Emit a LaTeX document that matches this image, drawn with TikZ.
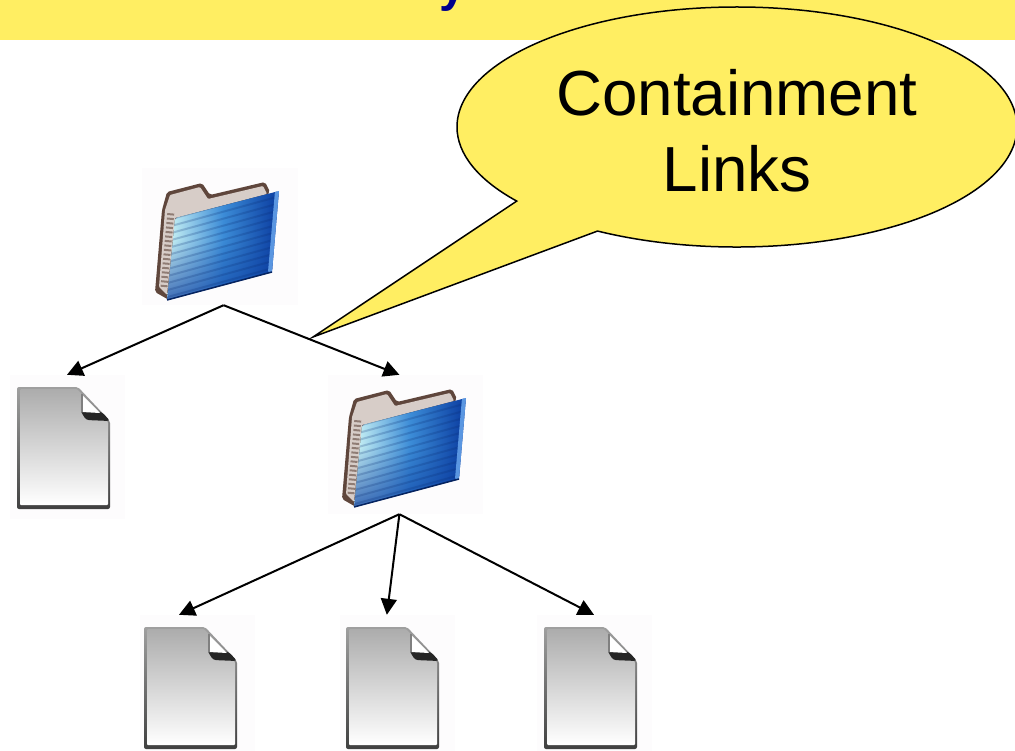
\documentclass[tikz,border=0pt]{standalone}
\usepackage{fontspec}
\setmainfont{Liberation Sans}
\usepackage{tikz}
\usetikzlibrary{arrows.meta,shapes.callouts,fadings}
\definecolor{bandyellow}{RGB}{255,238,98}
\definecolor{titleblue}{RGB}{0,0,140}
\definecolor{iconback}{RGB}{253,252,253}
\definecolor{tabbrown}{RGB}{95,70,60}
\definecolor{tabpale}{RGB}{215,205,200}
\definecolor{folderdark}{RGB}{10,60,160}
\definecolor{foldermid}{RGB}{60,140,215}
\definecolor{folderlight}{RGB}{205,245,245}
\definecolor{folderedge}{RGB}{90,150,225}
\tikzset{
	iconbox/.style={fill=iconback,inner sep=0pt,minimum width=#1},
	filebox/.style={iconbox=115pt,minimum height=144pt},
	fileicon/.pic={
		\shade[top color=gray!75,bottom color=black!75,rounded corners=2pt] (-47,-61) -- (14,-61) -- (46,-27) -- (46,61) -- (-47,61) -- cycle;
		\shade[top color=gray!65,bottom color=white,rounded corners=1pt] (-44,-59) -- (13,-59) -- (44,-26) -- (44,57) -- (-44,57) -- cycle;
		\fill[black!85,rounded corners=3pt] (16,-38) -- (38,-36) -- (46,-27) -- (22,-28) -- cycle;
		\fill[white] (18,-53) -- (18,-36) -- (36,-35) -- cycle;
		\draw[gray,line width=1.5pt] (18,-54) -- (18,-36);
	},
	foldericon/.pic={
		\fill[tabbrown,rounded corners=2pt] (-69,57) -- (-62,-25) -- (-57,-43) -- (-22,-52) -- (-14,-40) -- (41,-53) -- (46,-43) -- (-55,65) -- cycle;
		\fill[tabpale,rounded corners=1pt] (-65,52) -- (-59,-25) -- (-54,-40) -- (-24,-48) -- (-16,-36) -- (39,-49) -- (43,-41) -- (-49,-17) -- (-57,60) -- cycle;
		\draw[tabbrown,line width=7pt,opacity=.6,dash pattern=on 2pt off 2.5pt] (-60,52) -- (-53,-24);
		\shade[left color=folderlight,right color=folderdark,middle color=foldermid,rounded corners=2pt] (-49,-17) -- (55,-44) -- (48,37) -- (-57,65) -- cycle;
		\begin{scope}
			\clip (-49,-17) -- (55,-44) -- (48,37) -- (-57,65) -- cycle;
			\fill[folderdark,opacity=.75,path fading=north] (-60,5) rectangle (60,66);
			\foreach \k in {0,7,...,84} {
				\draw[folderdark!70!black,opacity=.22,line width=2pt] (-60,-14+\k) -- (60,-47+\k);
			}
			\draw[folderedge,line width=8pt] (55,-44) -- (48,37);
		\end{scope}
		\draw[folderdark!60!black,line width=1.5pt] (-57,65) -- (48,37);
	}
}
\begin{document}
\begin{tikzpicture}[x=1pt,y=-1pt]
	\useasboundingbox (0,0) rectangle (1015,751);
	\fill[bandyellow] (0,0) rectangle (1015,40);
	\node[text=titleblue,font=\bfseries\fontsize{48}{48}\selectfont,anchor=base] (titleletter) at (453,2) {y};

	\node[iconbox=156pt,minimum height=137pt] (rootfolder) at (220,236.5) {};
	\node[filebox] (leftfile) at (67,447) {};
	\node[iconbox=155pt,minimum height=139pt] (subfolder) at (405.5,444.5) {};
	\node[filebox] (firstfile) at (197,687) {};
	\node[filebox] (secondfile) at (397,687) {};
	\node[filebox] (thirdfile) at (594,687) {};

	\pic at (224,235) {foldericon};
	\pic at (411,442) {foldericon};
	\pic at (64,448) {fileicon};
	\pic at (191,688) {fileicon};
	\pic at (393,688) {fileicon};
	\pic at (591,688) {fileicon};

	\path[-{Triangle[length=16pt,width=16pt]},line width=2pt]
	(rootfolder.273.3) edge (leftfile.north) edge (subfolder.95.3)
	(subfolder.265.5) edge (firstfile.104) edge (secondfile.98.7) edge (thirdfile.north);

	\node[ellipse callout,draw,line width=1.5pt,fill=bandyellow,minimum width=560pt,minimum height=240pt,inner sep=0pt,
		callout absolute pointer={(313,337)},callout pointer arc=22,
		align=center,font=\fontsize{63.7}{76}\selectfont] (linksnote) at (737,127) {\rule{0pt}{54pt}Containment\\Links};
\end{tikzpicture}
\end{document}
